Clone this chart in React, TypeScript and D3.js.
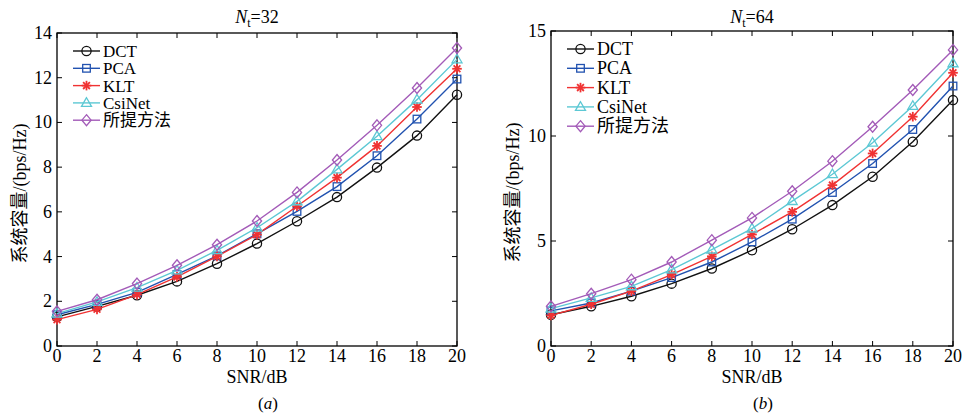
import React from 'react';
import * as d3 from 'd3';

const snr = [0, 2, 4, 6, 8, 10, 12, 14, 16, 18, 20];
const methods = ['DCT', 'PCA', 'KLT', 'CsiNet', '所提方法'];

// Nt = 32
const dct32 = [1.30, 1.77, 2.27, 2.89, 3.68, 4.58, 5.58, 6.66, 7.98, 9.41, 11.24];
const pca32 = [1.40, 1.86, 2.40, 3.20, 4.03, 5.02, 6.02, 7.13, 8.51, 10.15, 11.94];
const klt32 = [1.18, 1.64, 2.30, 3.09, 4.01, 4.98, 6.25, 7.53, 8.95, 10.69, 12.40];
const csi32 = [1.45, 1.97, 2.61, 3.38, 4.28, 5.29, 6.47, 7.90, 9.38, 11.02, 12.82];
const prop32 = [1.55, 2.07, 2.79, 3.61, 4.53, 5.59, 6.87, 8.32, 9.87, 11.54, 13.33];

// Nt = 64
const dct64 = [1.49, 1.89, 2.37, 2.97, 3.69, 4.56, 5.56, 6.71, 8.06, 9.73, 11.71];
const pca64 = [1.67, 2.05, 2.61, 3.26, 4.00, 4.96, 6.04, 7.31, 8.69, 10.31, 12.38];
const klt64 = [1.46, 1.99, 2.61, 3.40, 4.27, 5.31, 6.39, 7.66, 9.17, 10.92, 13.01];
const csi64 = [1.78, 2.29, 2.84, 3.64, 4.59, 5.59, 6.90, 8.18, 9.68, 11.43, 13.46];
const prop64 = [1.89, 2.49, 3.16, 4.00, 5.04, 6.10, 7.37, 8.80, 10.44, 12.19, 14.10];

const yTicks32 = [0, 2, 4, 6, 8, 10, 12, 14];
const yTicks64 = [0, 5, 10, 15];

const colors = ['#111111', '#2152b0', '#f03232', '#5cc8d4', '#a35bb8'];
const shapes = ['circle', 'square', 'star', 'triangle', 'diamond'];

const serif = '"Liberation Serif", "Times New Roman", serif';
const cjk = '"Liberation Serif", "Noto Sans CJK SC", serif';

function Marker({ shape, x, y, color }) {
  const sw = 1.3;
  if (shape === 'circle') return <circle cx={x} cy={y} r={4.6} fill="none" stroke={color} strokeWidth={sw} />;
  if (shape === 'square') return <rect x={x - 3.8} y={y - 3.8} width={7.6} height={7.6} fill="none" stroke={color} strokeWidth={sw} />;
  if (shape === 'triangle') {
    const p = [[x, y - 5.2], [x - 5, y + 3.4], [x + 5, y + 3.4]];
    return <polygon points={p.map(d => d.join(',')).join(' ')} fill="none" stroke={color} strokeWidth={sw} />;
  }
  if (shape === 'diamond') {
    const p = [[x, y - 5.5], [x + 4.6, y], [x, y + 5.5], [x - 4.6, y]];
    return <polygon points={p.map(d => d.join(',')).join(' ')} fill="none" stroke={color} strokeWidth={sw} />;
  }
  // star (asterisk)
  const r = 4.8;
  const lines = [0, 45, 90, 135].map(a => {
    const t = (a * Math.PI) / 180;
    return <line key={a} x1={x - r * Math.cos(t)} y1={y - r * Math.sin(t)} x2={x + r * Math.cos(t)} y2={y + r * Math.sin(t)} stroke={color} strokeWidth={1.8} />;
  });
  return <g>{lines}</g>;
}

function Panel({ left, right, top, bottom, yMax, yTicks, series, title, tag, legendX, legendY, legendStep, legendFont, yLabelX }) {
  const x = d3.scaleLinear().domain([0, 20]).range([left, right]);
  const y = d3.scaleLinear().domain([0, yMax]).range([bottom, top]);
  const line = d3.line<number>().x((d, i) => x(snr[i])).y(d => y(d));
  const tk = 5;
  const cx = (left + right) / 2;
  return (
    <g>
      <rect x={left} y={top} width={right - left} height={bottom - top} fill="none" stroke="#000" strokeWidth={1.3} />
      {snr.map(v => (
        <g key={'x' + v}>
          <line x1={x(v)} x2={x(v)} y1={bottom} y2={bottom - tk} stroke="#000" />
          <line x1={x(v)} x2={x(v)} y1={top} y2={top + tk} stroke="#000" />
          <text x={x(v)} y={bottom + 16} textAnchor="middle" fontFamily={serif} fontSize={18}>{v}</text>
        </g>
      ))}
      {yTicks.map(v => (
        <g key={'y' + v}>
          <line x1={left} x2={left + tk} y1={y(v)} y2={y(v)} stroke="#000" />
          <line x1={right} x2={right - tk} y1={y(v)} y2={y(v)} stroke="#000" />
          <text x={left - 5} y={y(v) + 6} textAnchor="end" fontFamily={serif} fontSize={18}>{v}</text>
        </g>
      ))}
      {series.map((s, k) => (
        <g key={'s' + k}>
          <path d={line(s)} fill="none" stroke={colors[k]} strokeWidth={1.4} />
          {s.map((v, i) => <Marker key={i} shape={shapes[k]} x={x(snr[i])} y={y(v)} color={colors[k]} />)}
        </g>
      ))}
      {methods.map((m, k) => {
        const ly = legendY + k * legendStep;
        return (
          <g key={'l' + m}>
            <line x1={legendX} x2={legendX + 27} y1={ly} y2={ly} stroke={colors[k]} strokeWidth={1.4} />
            <Marker shape={shapes[k]} x={legendX + 13.5} y={ly} color={colors[k]} />
            <text x={legendX + 30} y={ly + 6} fontFamily={cjk} fontSize={legendFont}>{m}</text>
          </g>
        );
      })}
      <text x={cx} y={23} textAnchor="middle" fontFamily={serif} fontSize={18}>
        <tspan fontStyle="italic">N</tspan>
        <tspan fontSize={12} dy={4}>t</tspan>
        <tspan dy={-4}>={title}</tspan>
      </text>
      <text x={cx} y={383} textAnchor="middle" fontFamily={serif} fontSize={18}>SNR/dB</text>
      <text x={cx + 11} y={409} textAnchor="middle" fontFamily={serif} fontSize={17} fontStyle="italic">
        <tspan fontStyle="normal">(</tspan>{tag}<tspan fontStyle="normal">)</tspan>
      </text>
      <text transform={`translate(${yLabelX},${(top + bottom) / 2 + 4}) rotate(-90)`} textAnchor="middle" fontFamily={cjk} fontSize={18}>
        系统容量/(bps/Hz)
      </text>
    </g>
  );
}

export default function App() {
  return (
    <svg width={966} height={415} style={{ position: 'absolute', left: 0, top: 0, background: '#fff' }}>
      <Panel left={57} right={457} top={33} bottom={346} yMax={14} yTicks={yTicks32}
        series={[dct32, pca32, klt32, csi32, prop32]} title="32" tag="a"
        legendX={73} legendY={51} legendStep={17.3} legendFont={17} yLabelX={26} />
      <Panel left={551} right={953} top={31} bottom={346} yMax={15} yTicks={yTicks64}
        series={[dct64, pca64, klt64, csi64, prop64]} title="64" tag="b"
        legendX={567} legendY={49} legendStep={19.3} legendFont={18} yLabelX={519} />
    </svg>
  );
}
